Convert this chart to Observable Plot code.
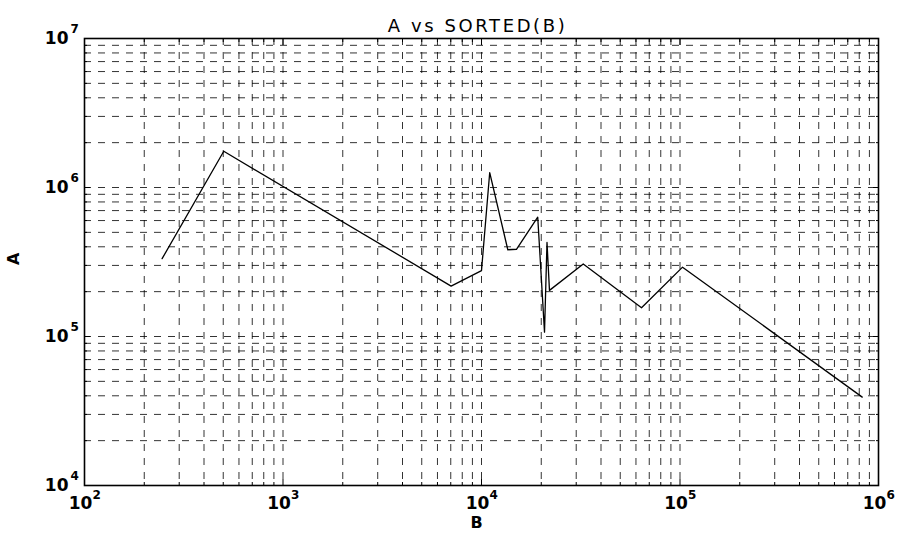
<!DOCTYPE html>
<html><head><meta charset="utf-8">
<script src="https://cdn.jsdelivr.net/npm/d3@7"></script>
<script src="https://cdn.jsdelivr.net/npm/@observablehq/plot@0.6"></script>
<style>
body{margin:0;background:#fff;}
</style>
</head><body><div id="chart"></div>
<script>
// Data (sorted B, matching A)
const B = [246, 503, 7030, 10000, 11000, 13570, 15000, 19200, 20770, 21380, 22000, 32550, 64000, 103000, 828000];
const A = [333000, 1750000, 218000, 277000, 1260000, 382000, 385000, 632000, 107000, 428000, 204000, 307000, 156000, 292000, 39200];

const xMajor = [1e2, 1e3, 1e4, 1e5, 1e6];
const xExp = ["2", "3", "4", "5", "6"];
const yMajor = [1e4, 1e5, 1e6, 1e7];
const yExp = ["4", "5", "6", "7"];
const title = "A vs SORTED(B)";
const xLabel = "B";
const yLabel = "A";

const minor = (lo, hi) => { const out = []; for (let e = lo; e < hi; e++) for (let k = 2; k <= 9; k++) out.push(k * 10 ** e); return out; };
const xMinor = minor(2, 6);
const yMinor = minor(4, 7);
const data = B.map((b, i) => ({B: b, A: A[i]}));

const font = "DejaVu Sans, sans-serif";
const gridStyle = {stroke: "black", strokeOpacity: 0.8, strokeWidth: 1, strokeDasharray: "7,7"};
const blank = () => "";

const chart = Plot.plot({
  width: 897, height: 534,
  marginLeft: 84, marginRight: 19, marginTop: 38, marginBottom: 49,
  x: {type: "log", domain: [1e2, 1e6]},
  y: {type: "log", domain: [1e4, 1e7]},
  style: {background: "white", fontFamily: font, color: "black"},
  marks: [
    Plot.gridX(xMinor.concat(xMajor), gridStyle),
    Plot.gridY(yMinor.concat(yMajor), gridStyle),
    Plot.axisX({anchor: "bottom", ticks: xMinor, tickSize: -3, tickFormat: blank, label: null}),
    Plot.axisX({anchor: "top", ticks: xMinor, tickSize: -3, tickFormat: blank, label: null}),
    Plot.axisY({anchor: "left", ticks: yMinor, tickSize: -3, tickFormat: blank, label: null}),
    Plot.axisY({anchor: "right", ticks: yMinor, tickSize: -3, tickFormat: blank, label: null}),
    Plot.axisX({anchor: "bottom", ticks: xMajor, tickSize: -6, tickFormat: blank, label: null}),
    Plot.axisX({anchor: "top", ticks: xMajor, tickSize: -6, tickFormat: blank, label: null}),
    Plot.axisY({anchor: "left", ticks: yMajor, tickSize: -6, tickFormat: blank, label: null}),
    Plot.axisY({anchor: "right", ticks: yMajor, tickSize: -6, tickFormat: blank, label: null}),
    Plot.frame({stroke: "black", strokeWidth: 1.6}),
    Plot.line(data, {x: "B", y: "A", stroke: "black", strokeWidth: 1.3}),
    // x tick labels 10^n
    Plot.text(xMajor, {x: d => d, frameAnchor: "bottom", text: () => "10", dy: 23, dx: -4, fontSize: 17, fontWeight: "bold"}),
    Plot.text(xMajor, {x: d => d, frameAnchor: "bottom", text: (d, i) => xExp[i], dy: 13, dx: 8, textAnchor: "start", fontSize: 12, fontWeight: "bold"}),
    // y tick labels 10^n
    Plot.text(yMajor, {y: d => d, frameAnchor: "left", text: () => "10", dx: -16, dy: 0, textAnchor: "end", fontSize: 17, fontWeight: "bold"}),
    Plot.text(yMajor, {y: d => d, frameAnchor: "left", text: (d, i) => yExp[i], dx: -14, dy: -9, textAnchor: "start", fontSize: 12, fontWeight: "bold"}),
    // labels and title
    Plot.text([title], {text: d => d, frameAnchor: "top", dy: -19, dx: -4, fontSize: 18}),
    Plot.text([xLabel], {text: d => d, frameAnchor: "bottom", dy: 42, dx: -5, fontSize: 16, fontWeight: "bold"}),
    Plot.text([yLabel], {text: d => d, frameAnchor: "left", dx: -71, dy: 3, rotate: -90, fontSize: 16, fontWeight: "bold"})
  ]
});
d3.select(chart).selectAll("text").filter(function() { return this.textContent === title; })
  .style("letter-spacing", "2.6px");
document.getElementById("chart").appendChild(chart);
</script>
</body></html>
